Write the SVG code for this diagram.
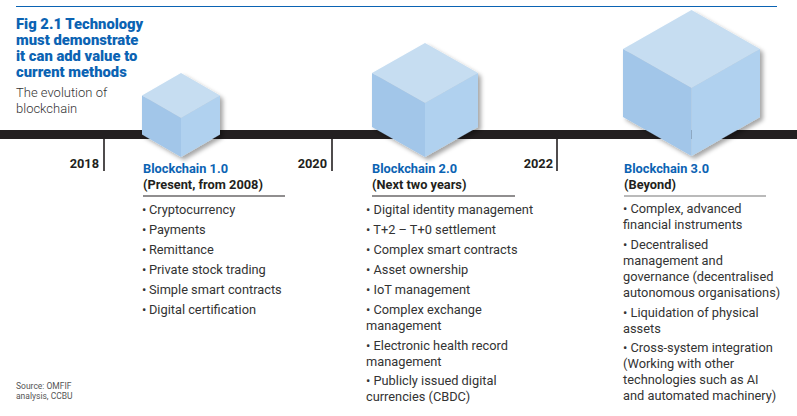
<svg xmlns="http://www.w3.org/2000/svg" width="797" height="416" viewBox="0 0 797 416">
  <defs>
    <filter id="cubeShadow" x="-20%" y="-20%" width="150%" height="150%">
      <feDropShadow dx="3" dy="3" stdDeviation="2.2" flood-color="#000" flood-opacity="0.35"/>
    </filter>
  </defs>
  <style>
    .title { font-family: Roboto, "Liberation Sans", sans-serif; font-weight: 900; font-size: 14.8px; fill: #0b63b3; }
    .sub { font-family: Roboto, "Liberation Sans", sans-serif; font-weight: 300; font-size: 13px; fill: #333; }
    .year { font-family: Roboto, "Liberation Sans", sans-serif; font-weight: 700; font-size: 12.8px; fill: #231f20; text-anchor: end; }
    .head { font-family: Roboto, "Liberation Sans", sans-serif; font-weight: 700; font-size: 12.8px; fill: #0b63b3; }
    .head2 { font-family: Roboto, "Liberation Sans", sans-serif; font-weight: 700; font-size: 12.8px; fill: #231f20; }
    .item { font-family: Roboto, "Liberation Sans", sans-serif; font-weight: 400; font-size: 12.8px; fill: #333; }
    .src { font-family: Roboto, "Liberation Sans", sans-serif; font-weight: 400; font-size: 8.5px; fill: #555; }
    .top { fill: #c6ddf1; }
    .left { fill: #a2c6e9; }
    .right { fill: #b0d1ef; }
    .tick { stroke: #231f20; stroke-width: 1.6; }
  </style>

  <rect width="797" height="416" fill="#fff"/>

  <!-- header rule and title -->
  <line x1="16" y1="6.5" x2="777" y2="6.5" stroke="#0b63b3" stroke-width="1.2"/>
  <g id="title">
    <text class="title" x="16" y="29">Fig 2.1 Technology</text>
    <text class="title" x="16" y="45">must demonstrate</text>
    <text class="title" x="16" y="61">it can add value to</text>
    <text class="title" x="16" y="77">current methods</text>
    <text class="sub" x="16" y="97">The evolution of</text>
    <text class="sub" x="16" y="113">blockchain</text>
  </g>

  <!-- timeline bar with year ticks -->
  <g id="timeline">
    <rect x="0" y="130" width="797" height="9" fill="#231f20"/>
    <line class="tick" x1="104" y1="138" x2="104" y2="171"/>
    <line class="tick" x1="332" y1="138" x2="332" y2="171"/>
    <line class="tick" x1="557" y1="138" x2="557" y2="171"/>
    <text class="year" x="99" y="168">2018</text>
    <text class="year" x="327" y="168">2020</text>
    <text class="year" x="553" y="168">2022</text>
  </g>

  <!-- cubes -->
  <g id="cube1" filter="url(#cubeShadow)">
    <polygon class="top" points="181,73 220,95.5 181,118 142,95.5"/>
    <polygon class="left" points="142,95.5 181,118 181,157 142,134.5"/>
    <polygon class="right" points="181,118 220,95.5 220,134.5 181,157"/>
  </g>
  <g id="cube2" filter="url(#cubeShadow)">
    <polygon class="top" points="425,43 478,73 425,103 372,73"/>
    <polygon class="left" points="372,73 425,103 425,157 372,127"/>
    <polygon class="right" points="425,103 478,73 478,127 425,157"/>
  </g>
  <g id="cube3" filter="url(#cubeShadow)">
    <polygon class="top" points="691.5,10 760,49 691.5,88 623,49"/>
    <polygon class="left" points="623,49 691.5,88 691.5,156 623,117"/>
    <polygon class="right" points="691.5,88 760,49 760,117 691.5,156"/>
  </g>

  <!-- Blockchain 1.0 -->
  <g id="stage1">
    <text class="head" x="143" y="173">Blockchain 1.0</text>
    <text class="head2" x="143" y="189">(Present, from 2008)</text>
    <line x1="143" y1="196" x2="285" y2="196" stroke="#231f20" stroke-width="1.2"/>
    <text class="item" x="142" y="214">•&#8201;Cryptocurrency</text>
    <text class="item" x="142" y="234">•&#8201;Payments</text>
    <text class="item" x="142" y="254">•&#8201;Remittance</text>
    <text class="item" x="142" y="274">•&#8201;Private stock trading</text>
    <text class="item" x="142" y="294">•&#8201;Simple smart contracts</text>
    <text class="item" x="142" y="314">•&#8201;Digital certification</text>
  </g>

  <!-- Blockchain 2.0 -->
  <g id="stage2">
    <text class="head" x="372" y="173">Blockchain 2.0</text>
    <text class="head2" x="372" y="189">(Next two years)</text>
    <line x1="372" y1="196" x2="515" y2="196" stroke="#231f20" stroke-width="1.2"/>
    <text class="item" x="366" y="214">• Digital identity management</text>
    <text class="item" x="366" y="234">• T+2 – T+0 settlement</text>
    <text class="item" x="366" y="254">• Complex smart contracts</text>
    <text class="item" x="366" y="274">• Asset ownership</text>
    <text class="item" x="366" y="294">• IoT management</text>
    <text class="item" x="366" y="314">• Complex exchange</text>
    <text class="item" x="366" y="330">management</text>
    <text class="item" x="366" y="350">• Electronic health record</text>
    <text class="item" x="366" y="366">management</text>
    <text class="item" x="366" y="385">• Publicly issued digital</text>
    <text class="item" x="366" y="401">currencies (CBDC)</text>
  </g>

  <!-- Blockchain 3.0 -->
  <g id="stage3">
    <text class="head" x="624" y="173">Blockchain 3.0</text>
    <text class="head2" x="624" y="189">(Beyond)</text>
    <line x1="624" y1="196" x2="766" y2="196" stroke="#777" stroke-width="1.2"/>
    <text class="item" x="623" y="213">• Complex, advanced</text>
    <text class="item" x="623" y="229">financial instruments</text>
    <text class="item" x="623" y="249">• Decentralised</text>
    <text class="item" x="623" y="265">management and</text>
    <text class="item" x="623" y="281">governance (decentralised</text>
    <text class="item" x="623" y="297">autonomous organisations)</text>
    <text class="item" x="623" y="317">• Liquidation of physical</text>
    <text class="item" x="623" y="333">assets</text>
    <text class="item" x="623" y="352">• Cross-system integration</text>
    <text class="item" x="623" y="368">(Working with other</text>
    <text class="item" x="623" y="384">technologies such as AI</text>
    <text class="item" x="623" y="400">and automated machinery)</text>
  </g>

  <!-- source note -->
  <g id="source">
    <text class="src" x="16" y="389">Source: OMFIF</text>
    <text class="src" x="16" y="399">analysis, CCBU</text>
  </g>
</svg>
